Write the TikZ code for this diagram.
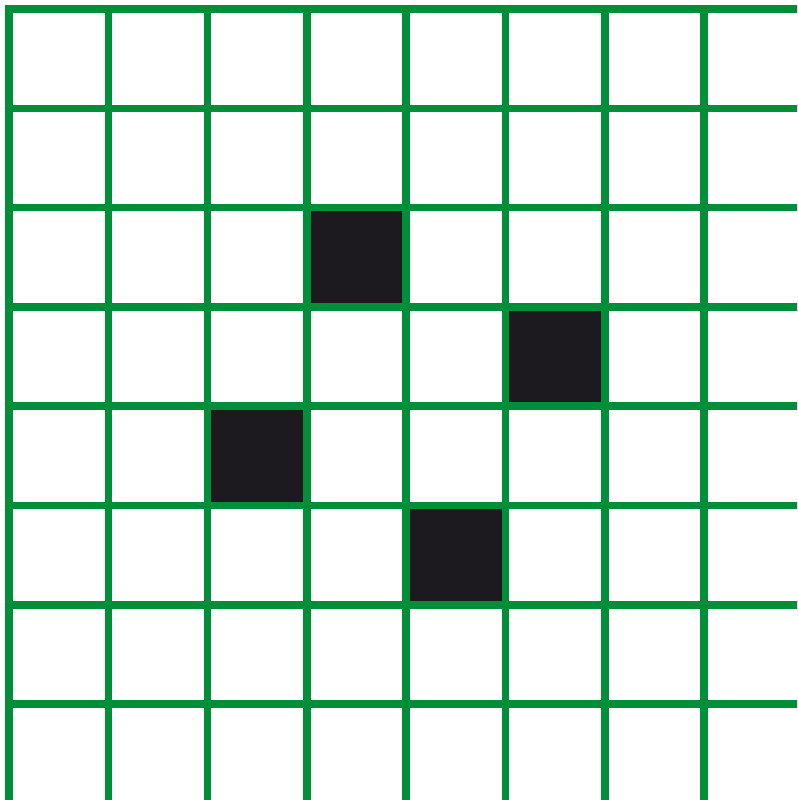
\documentclass[tikz,border=0pt]{standalone}
\usepackage{xcolor}
\definecolor{gridgreen}{RGB}{0, 142, 56}
\definecolor{cellblack}{RGB}{28, 26, 30}
\usepackage{tikz}
\tikzset{
  gridline/.style={draw=gridgreen, line width=2.15pt, line cap=rect},
  darkcell/.style={fill=cellblack}
}

\begin{document}
\begin{tikzpicture}[x=1cm, y=-1cm]
    \useasboundingbox (-0.0906,-0.0906) rectangle (7.935,7.965);
    \clip (-0.0906,-0.0906) rectangle (7.935,7.965);
    \fill[white] (-0.0906,-0.0906) rectangle (7.935,7.965);

    % filled cells
    \foreach \col/\row in {3/2, 5/3, 2/4, 4/5}
      \fill[darkcell] (\col,\row) rectangle ++(1,1);

    % grid
    \foreach \i in {0,...,8} {
      \draw[gridline] (\i,0) -- (\i,8.3);
      \draw[gridline] (0,\i) -- (8.3,\i);
    }
  \end{tikzpicture}
\end{document}
